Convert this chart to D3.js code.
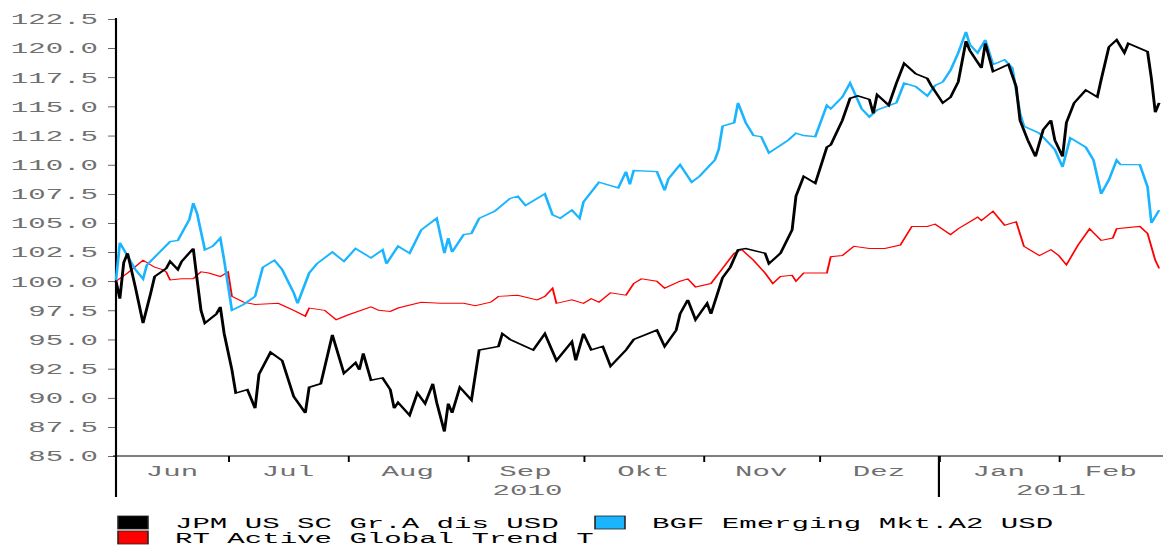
<!DOCTYPE html>
<html>
<head>
<meta charset="utf-8">
<script src="https://cdn.jsdelivr.net/npm/d3@7"></script>
<style>
  html, body { margin: 0; padding: 0; background: #fff; }
  svg { display: block; }
  text { font-family: "Liberation Mono", "DejaVu Sans Mono", monospace; }
</style>
</head>
<body>
<div id="chart"></div>
<script>
// --- DATA ---
const monthNames = ["Jun", "Jul", "Aug", "Sep", "Okt", "Nov", "Dez", "Jan", "Feb"];
const yearNames = ["2010", "2011"];
const yTicks = [85, 87.5, 90, 92.5, 95, 97.5, 100, 102.5, 105, 107.5, 110, 112.5, 115, 117.5, 120, 122.5];
const seriesNames = ["JPM US SC Gr.A dis USD", "BGF Emerging Mkt.A2 USD", "RT Active Global Trend T"];

const jpmValues = [
  ["2010-06-02", 100.0], ["2010-06-03", 98.5], ["2010-06-04", 101.6], ["2010-06-05", 102.4],
  ["2010-06-07", 99.5], ["2010-06-09", 96.4], ["2010-06-11", 99.0], ["2010-06-12", 100.4],
  ["2010-06-15", 101.1], ["2010-06-16", 101.7], ["2010-06-18", 101.0], ["2010-06-19", 101.7],
  ["2010-06-22", 102.8], ["2010-06-23", 100.1], ["2010-06-24", 97.5], ["2010-06-25", 96.4],
  ["2010-06-28", 97.2], ["2010-06-29", 97.8], ["2010-06-30", 95.5], ["2010-07-02", 92.4],
  ["2010-07-03", 90.4], ["2010-07-06", 90.7], ["2010-07-08", 89.1], ["2010-07-09", 92.0],
  ["2010-07-12", 93.9], ["2010-07-15", 93.2], ["2010-07-18", 90.1], ["2010-07-21", 88.7],
  ["2010-07-22", 90.9], ["2010-07-25", 91.2], ["2010-07-28", 95.4], ["2010-07-31", 92.1],
  ["2010-08-03", 93.0], ["2010-08-04", 92.4], ["2010-08-05", 93.8], ["2010-08-07", 91.5],
  ["2010-08-10", 91.7], ["2010-08-12", 90.7], ["2010-08-13", 89.1], ["2010-08-14", 89.6],
  ["2010-08-17", 88.5], ["2010-08-19", 90.4], ["2010-08-21", 89.5], ["2010-08-23", 91.2],
  ["2010-08-24", 89.6], ["2010-08-26", 87.1], ["2010-08-27", 89.5], ["2010-08-28", 88.7],
  ["2010-08-30", 90.9], ["2010-09-02", 89.8], ["2010-09-04", 94.1], ["2010-09-09", 94.4],
  ["2010-09-10", 95.5], ["2010-09-12", 95.0], ["2010-09-18", 94.1], ["2010-09-21", 95.5],
  ["2010-09-24", 93.2], ["2010-09-28", 94.8], ["2010-09-29", 93.2], ["2010-10-01", 95.5],
  ["2010-10-03", 94.1], ["2010-10-06", 94.4], ["2010-10-08", 92.7], ["2010-10-12", 94.1],
  ["2010-10-14", 95.0], ["2010-10-20", 95.8], ["2010-10-22", 94.4], ["2010-10-25", 95.8],
  ["2010-10-26", 97.2], ["2010-10-28", 98.4], ["2010-10-30", 96.7], ["2010-11-02", 98.1],
  ["2010-11-03", 97.2], ["2010-11-06", 100.3], ["2010-11-08", 101.2], ["2010-11-10", 102.7],
  ["2010-11-12", 102.8], ["2010-11-17", 102.4], ["2010-11-18", 101.5], ["2010-11-21", 102.4],
  ["2010-11-24", 104.4], ["2010-11-25", 107.3], ["2010-11-27", 109.0], ["2010-11-30", 108.4],
  ["2010-12-03", 111.5], ["2010-12-04", 111.7], ["2010-12-07", 113.8], ["2010-12-09", 115.7],
  ["2010-12-11", 115.9], ["2010-12-14", 115.6], ["2010-12-15", 114.4], ["2010-12-16", 116.0],
  ["2010-12-19", 115.1], ["2010-12-21", 117.0], ["2010-12-23", 118.7], ["2010-12-26", 117.8],
  ["2010-12-29", 117.4], ["2010-12-30", 116.8], ["2011-01-02", 115.3], ["2011-01-04", 115.8],
  ["2011-01-06", 117.1], ["2011-01-08", 120.6], ["2011-01-09", 119.8], ["2011-01-12", 118.3],
  ["2011-01-13", 120.4], ["2011-01-15", 118.0], ["2011-01-19", 118.6], ["2011-01-21", 116.7],
  ["2011-01-22", 113.8], ["2011-01-24", 112.1], ["2011-01-26", 110.7], ["2011-01-28", 113.0],
  ["2011-01-30", 113.8], ["2011-01-31", 112.1], ["2011-02-02", 110.7], ["2011-02-03", 113.6],
  ["2011-02-05", 115.3], ["2011-02-08", 116.4], ["2011-02-11", 115.8], ["2011-02-12", 117.3],
  ["2011-02-14", 120.1], ["2011-02-16", 120.7], ["2011-02-18", 119.6], ["2011-02-19", 120.4],
  ["2011-02-24", 119.7], ["2011-02-25", 117.4], ["2011-02-26", 114.5], ["2011-02-27", 115.3]
];

const bgfValues = [
  ["2010-06-02", 100.1], ["2010-06-03", 103.3], ["2010-06-07", 101.0], ["2010-06-09", 100.2],
  ["2010-06-10", 101.4], ["2010-06-13", 102.4], ["2010-06-16", 103.4], ["2010-06-18", 103.5],
  ["2010-06-21", 105.3], ["2010-06-22", 106.7], ["2010-06-23", 105.8], ["2010-06-25", 102.7],
  ["2010-06-27", 103.0], ["2010-06-29", 103.7], ["2010-06-30", 101.8], ["2010-07-02", 97.5],
  ["2010-07-05", 98.0], ["2010-07-08", 98.7], ["2010-07-10", 101.2], ["2010-07-13", 101.8],
  ["2010-07-15", 101.0], ["2010-07-18", 99.0], ["2010-07-19", 98.1], ["2010-07-22", 100.7],
  ["2010-07-24", 101.5], ["2010-07-28", 102.5], ["2010-07-31", 101.7], ["2010-08-03", 102.8],
  ["2010-08-07", 102.0], ["2010-08-10", 102.7], ["2010-08-11", 101.5], ["2010-08-14", 103.0],
  ["2010-08-17", 102.4], ["2010-08-20", 104.4], ["2010-08-24", 105.4], ["2010-08-26", 102.4],
  ["2010-08-27", 103.7], ["2010-08-28", 102.5], ["2010-08-31", 104.0], ["2010-09-02", 104.1],
  ["2010-09-04", 105.4], ["2010-09-08", 106.0], ["2010-09-12", 107.1], ["2010-09-14", 107.3],
  ["2010-09-16", 106.5], ["2010-09-21", 107.5], ["2010-09-23", 105.7], ["2010-09-25", 105.4],
  ["2010-09-28", 106.1], ["2010-09-30", 105.4], ["2010-10-01", 106.8], ["2010-10-05", 108.5],
  ["2010-10-10", 108.0], ["2010-10-12", 109.4], ["2010-10-13", 108.3], ["2010-10-14", 109.5],
  ["2010-10-20", 109.4], ["2010-10-22", 107.8], ["2010-10-23", 108.8], ["2010-10-26", 110.0],
  ["2010-10-29", 108.5], ["2010-10-31", 109.0], ["2010-11-04", 110.4], ["2010-11-05", 111.3],
  ["2010-11-06", 113.3], ["2010-11-09", 113.6], ["2010-11-10", 115.3], ["2010-11-12", 113.6],
  ["2010-11-14", 112.5], ["2010-11-16", 112.4], ["2010-11-18", 111.0], ["2010-11-23", 112.1],
  ["2010-11-25", 112.7], ["2010-11-27", 112.5], ["2010-11-30", 112.4], ["2010-12-03", 115.1],
  ["2010-12-04", 114.8], ["2010-12-07", 115.8], ["2010-12-09", 117.0], ["2010-12-12", 114.8],
  ["2010-12-14", 114.1], ["2010-12-16", 114.7], ["2010-12-21", 115.3], ["2010-12-23", 117.0],
  ["2010-12-26", 116.7], ["2010-12-29", 115.9], ["2010-12-31", 116.8], ["2011-01-02", 117.1],
  ["2011-01-04", 118.1], ["2011-01-06", 119.6], ["2011-01-08", 121.4], ["2011-01-09", 120.3],
  ["2011-01-11", 119.6], ["2011-01-13", 120.7], ["2011-01-15", 118.6], ["2011-01-18", 119.0],
  ["2011-01-20", 118.3], ["2011-01-22", 114.4], ["2011-01-23", 113.3], ["2011-01-27", 112.7],
  ["2011-01-31", 111.3], ["2011-02-02", 109.8], ["2011-02-04", 112.3], ["2011-02-08", 111.5],
  ["2011-02-10", 110.4], ["2011-02-12", 107.5], ["2011-02-14", 108.7], ["2011-02-16", 110.4],
  ["2011-02-17", 110.0], ["2011-02-22", 110.0], ["2011-02-24", 108.1], ["2011-02-25", 105.0],
  ["2011-02-27", 106.1]
];

const rtValues = [
  ["2010-06-02", 100.0], ["2010-06-05", 100.7], ["2010-06-09", 101.8], ["2010-06-12", 101.2],
  ["2010-06-14", 101.0], ["2010-06-15", 100.8], ["2010-06-16", 100.1], ["2010-06-19", 100.2],
  ["2010-06-22", 100.2], ["2010-06-24", 100.8], ["2010-06-26", 100.7], ["2010-06-29", 100.4],
  ["2010-07-01", 100.8], ["2010-07-02", 98.7], ["2010-07-05", 98.2], ["2010-07-08", 98.0],
  ["2010-07-14", 98.1], ["2010-07-18", 97.5], ["2010-07-21", 97.0], ["2010-07-22", 97.7],
  ["2010-07-26", 97.5], ["2010-07-29", 96.7], ["2010-08-01", 97.1], ["2010-08-07", 97.8],
  ["2010-08-09", 97.5], ["2010-08-12", 97.4], ["2010-08-14", 97.7], ["2010-08-20", 98.2],
  ["2010-08-25", 98.1], ["2010-08-31", 98.1], ["2010-09-03", 97.9], ["2010-09-07", 98.2],
  ["2010-09-09", 98.7], ["2010-09-14", 98.8], ["2010-09-19", 98.4], ["2010-09-21", 98.7],
  ["2010-09-23", 99.4], ["2010-09-24", 98.1], ["2010-09-28", 98.4], ["2010-10-01", 98.1],
  ["2010-10-03", 98.5], ["2010-10-05", 98.2], ["2010-10-08", 99.0], ["2010-10-12", 98.8],
  ["2010-10-14", 99.8], ["2010-10-16", 100.2], ["2010-10-20", 100.0], ["2010-10-22", 99.4],
  ["2010-10-26", 100.0], ["2010-10-28", 100.2], ["2010-10-30", 99.5], ["2010-11-03", 99.8],
  ["2010-11-06", 101.1], ["2010-11-09", 102.4], ["2010-11-11", 102.7], ["2010-11-14", 101.8],
  ["2010-11-17", 100.7], ["2010-11-19", 99.8], ["2010-11-21", 100.4], ["2010-11-24", 100.5],
  ["2010-11-25", 100.0], ["2010-11-27", 100.7], ["2010-12-03", 100.7], ["2010-12-04", 102.1],
  ["2010-12-07", 102.2], ["2010-12-10", 103.0], ["2010-12-14", 102.8], ["2010-12-18", 102.8],
  ["2010-12-22", 103.1], ["2010-12-25", 104.7], ["2010-12-29", 104.7], ["2010-12-31", 104.9],
  ["2011-01-04", 104.0], ["2011-01-06", 104.5], ["2011-01-11", 105.5], ["2011-01-12", 105.2],
  ["2011-01-15", 106.0], ["2011-01-18", 104.8], ["2011-01-21", 105.1], ["2011-01-23", 103.0],
  ["2011-01-27", 102.2], ["2011-01-30", 102.7], ["2011-02-01", 102.2], ["2011-02-03", 101.4],
  ["2011-02-06", 103.1], ["2011-02-09", 104.5], ["2011-02-12", 103.5], ["2011-02-15", 103.7],
  ["2011-02-16", 104.5], ["2011-02-22", 104.7], ["2011-02-24", 104.1], ["2011-02-26", 101.8],
  ["2011-02-27", 101.1]
];

// --- SETUP ---
// the original is drawn narrow and stretched sideways, so draw in a 600-wide box and stretch it
const W = 1163, H = 548, VW = 600;
const S = W / VW;
const px = v => v / S;   // screen px -> box units (horizontal only)

const parse = d3.timeParse("%Y-%m-%d");
const colors = ["#000000", "#1ab4ff", "#ff0000"];
const widths = [1.5, 1.4, 1.0];
const series = [jpmValues, bgfValues, rtValues].map(arr => arr.map(d => ({date: parse(d[0]), value: d[1]})));

const svg = d3.select("#chart").append("svg")
    .attr("width", W)
    .attr("height", H)
    .attr("viewBox", `0 0 ${VW} ${H}`)
    .attr("preserveAspectRatio", "none");

const x = d3.scaleTime()
    .domain([new Date(2010, 5, 2), new Date(2011, 1, 28)])
    .range([px(116), px(1163)]);

const y = d3.scaleLinear()
    .domain([85, 122.5])
    .range([456, 19]);

const axisGrey = "#707070";
const FONT = "Liberation Mono, DejaVu Sans Mono, monospace";

// y axis
const yAxis = svg.append("g")
    .attr("transform", `translate(${x.range()[0]},0)`)
    .call(d3.axisLeft(y).tickValues(yTicks).tickFormat(d3.format(".1f")).tickSize(px(8)).tickPadding(px(10)));
yAxis.select(".domain").remove();
yAxis.selectAll(".tick line").attr("stroke", "#000").attr("stroke-width", 0.6);
yAxis.selectAll("text").attr("fill", axisGrey).attr("font-size", 15)
    .attr("font-family", FONT);
svg.append("line")
    .attr("x1", x.range()[0]).attr("x2", x.range()[0])
    .attr("y1", 18).attr("y2", 497)
    .attr("stroke", "#000").attr("stroke-width", 1.1);

// x axis
const monthStarts = d3.timeMonth.range(new Date(2010, 6, 1), new Date(2011, 1, 28));
const xAxis = svg.append("g")
    .attr("transform", `translate(0,${y(85)})`)
    .call(d3.axisBottom(x).tickValues(monthStarts).tickFormat("").tickSize(6));
xAxis.select(".domain").remove();
xAxis.selectAll(".tick line").attr("stroke", "#000").attr("stroke-width", 1.0);
svg.append("line")
    .attr("x1", px(113)).attr("x2", x.range()[1])
    .attr("y1", y(85)).attr("y2", y(85))
    .attr("stroke", "#000").attr("stroke-width", 1);

// year separator
const jan1 = new Date(2011, 0, 1);
svg.append("line")
    .attr("x1", x(jan1)).attr("x2", x(jan1))
    .attr("y1", y(85)).attr("y2", 497)
    .attr("stroke", "#000").attr("stroke-width", 1.1);

// month labels centred in each month
const bounds = [x.domain()[0], ...monthStarts, x.domain()[1]];
monthNames.forEach((m, i) => {
    svg.append("text")
        .attr("x", (x(bounds[i]) + x(bounds[i + 1])) / 2)
        .attr("y", 476)
        .attr("text-anchor", "middle")
        .attr("font-size", 15)
        .attr("font-family", FONT)
        .attr("fill", axisGrey)
        .text(m);
});
const yearBounds = [[x.domain()[0], jan1], [jan1, x.domain()[1]]];
yearNames.forEach((yr, i) => {
    svg.append("text")
        .attr("x", (x(yearBounds[i][0]) + x(yearBounds[i][1])) / 2)
        .attr("y", 495)
        .attr("text-anchor", "middle")
        .attr("font-size", 15)
        .attr("font-family", FONT)
        .attr("fill", axisGrey)
        .text(yr);
});

// lines
const line = d3.line().x(d => x(d.date)).y(d => y(d.value));
[2, 1, 0].forEach(i => {
    svg.append("path")
        .datum(series[i])
        .attr("fill", "none")
        .attr("stroke", colors[i])
        .attr("stroke-width", widths[i])
        .attr("stroke-linejoin", "miter")
        .attr("d", line);
});

// legend
const legendPos = [[118, 523], [595, 523], [118, 538]];
seriesNames.forEach((name, i) => {
    const [lx, ly] = legendPos[i];
    svg.append("rect")
        .attr("x", px(lx)).attr("y", ly - 7)
        .attr("width", px(30)).attr("height", 13)
        .attr("fill", colors[i])
        .attr("stroke", "#222").attr("stroke-width", 0.8);
    svg.append("text")
        .attr("x", px(lx + 57))
        .attr("y", ly + 5)
        .attr("font-size", 15)
        .attr("font-family", FONT)
        .attr("fill", "#000")
        .text(name);
});
</script>
</body>
</html>
